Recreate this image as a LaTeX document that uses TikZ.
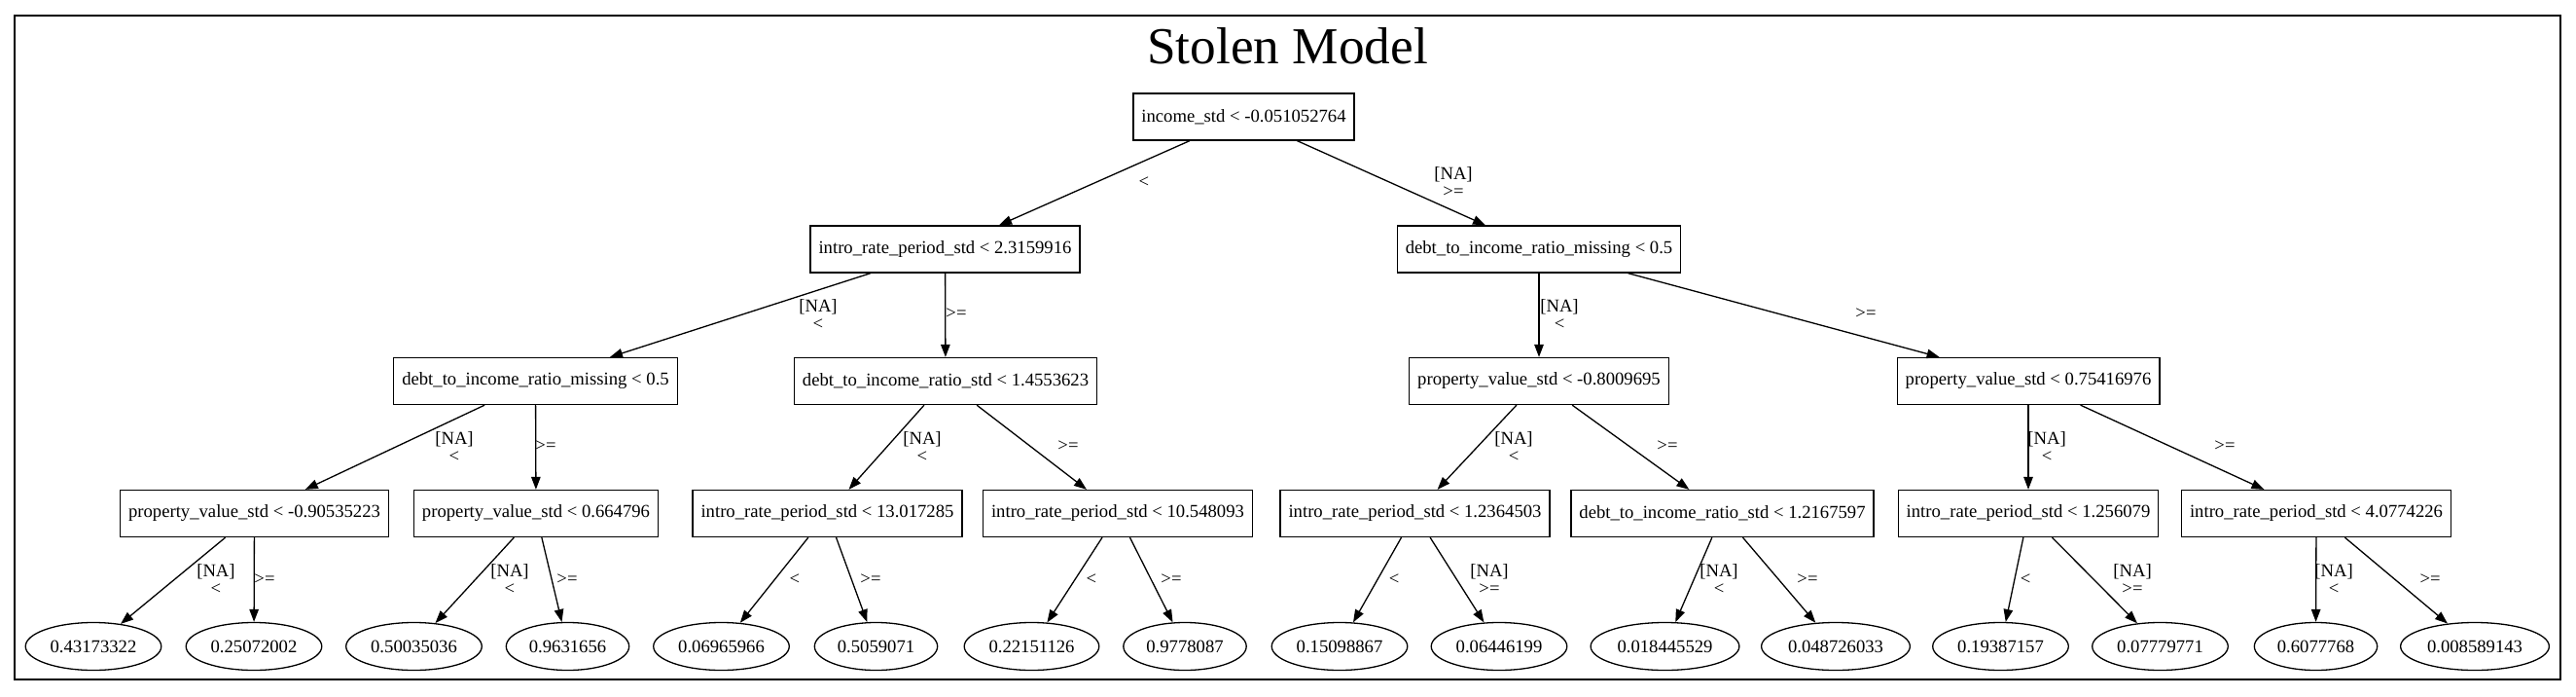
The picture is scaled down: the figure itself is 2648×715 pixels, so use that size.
\documentclass[tikz,border=0pt]{standalone}
\usepackage{fontspec}
\setmainfont{Liberation Serif}
\usetikzlibrary{shapes.geometric,arrows.meta}
\begin{document}
\begin{tikzpicture}[x=1pt,y=-1pt,
  txt/.style={font=\fontsize{18.67}{18}\selectfont},
  box/.style={txt,draw,line width=1.3pt,rectangle,minimum height=48pt,inner xsep=8.5pt,inner ysep=0pt},
  leaf/.style={txt,draw,line width=1.3pt,ellipse,minimum height=49pt,inner xsep=5pt,inner ysep=0pt},
  edge/.style={line width=1.3pt,-{Triangle[length=13pt,width=9.5pt]}},
  elabel/.style={txt,align=center,inner sep=0pt}]
\useasboundingbox (0,0) rectangle (2648,715);
\draw[line width=1.3pt] (15,16) rectangle (2632,698);
\node[font=\fontsize{53.3}{60}\selectfont,anchor=base] (title) at (1323.5,65) {Stolen Model};
% row 0-2
\node[box] (n0) at (1278.5,120) {income\_std < -0.051052764};
\node[box] (n1) at (971.5,256) {intro\_rate\_period\_std < 2.3159916};
\node[box] (n2) at (1582,256) {debt\_to\_income\_ratio\_missing < 0.5};
\node[box] (n3) at (550.5,391.5) {debt\_to\_income\_ratio\_missing < 0.5};
\node[box] (n4) at (972,391.5) {debt\_to\_income\_ratio\_std < 1.4553623};
\node[box] (n5) at (1582,391.5) {property\_value\_std < -0.8009695};
\node[box] (n6) at (2085,391.5) {property\_value\_std < 0.75416976};
% row 3
\node[box] (n7) at (261.5,527.5) {property\_value\_std < -0.90535223};
\node[box] (n8) at (551,527.5) {property\_value\_std < 0.664796};
\node[box] (n9) at (850.5,527.5) {intro\_rate\_period\_std < 13.017285};
\node[box] (n10) at (1149,527.5) {intro\_rate\_period\_std < 10.548093};
\node[box] (n11) at (1454.5,527.5) {intro\_rate\_period\_std < 1.2364503};
\node[box] (n12) at (1770.5,527.5) {debt\_to\_income\_ratio\_std < 1.2167597};
\node[box] (n13) at (2085,527.5) {intro\_rate\_period\_std < 1.256079};
\node[box] (n14) at (2381,527.5) {intro\_rate\_period\_std < 4.0774226};
% leaves
\node[leaf] (l1) at (96,664) {0.43173322};
\node[leaf] (l2) at (261,664) {0.25072002};
\node[leaf] (l3) at (425.5,664) {0.50035036};
\node[leaf] (l4) at (583.5,664) {0.9631656};
\node[leaf] (l5) at (741.5,664) {0.06965966};
\node[leaf] (l6) at (900.5,664) {0.5059071};
\node[leaf] (l7) at (1060.5,664) {0.22151126};
\node[leaf] (l8) at (1218,664) {0.9778087};
\node[leaf] (l9) at (1377,664) {0.15098867};
\node[leaf] (l10) at (1541,664) {0.06446199};
\node[leaf] (l11) at (1711.5,664) {0.018445529};
\node[leaf] (l12) at (1887,664) {0.048726033};
\node[leaf] (l13) at (2056.5,664) {0.19387157};
\node[leaf] (l14) at (2220.5,664) {0.07779771};
\node[leaf] (l15) at (2380.5,664) {0.6077768};
\node[leaf] (l16) at (2544,664) {0.008589143};
% edges
\draw[edge] (n0) -- (n1); \node[elabel] (e1) at (1176,187) {<};
\draw[edge] (n0) -- (n2); \node[elabel] (e2) at (1494,187) {[NA]\\>=};
\draw[edge] (n1) -- (n3); \node[elabel] (e3) at (841,323) {[NA]\\<};
\draw[edge] (n1) -- (n4); \node[elabel] (e4) at (983,322) {>=};
\draw[edge] (n2) -- (n5); \node[elabel] (e5) at (1603,323) {[NA]\\<};
\draw[edge] (n2) -- (n6); \node[elabel] (e6) at (1918,322) {>=};
\draw[edge] (n3) -- (n7); \node[elabel] (e7) at (467,459) {[NA]\\<};
\draw[edge] (n3) -- (n8); \node[elabel] (e8) at (561,458) {>=};
\draw[edge] (n4) -- (n9); \node[elabel] (e9) at (948,459) {[NA]\\<};
\draw[edge] (n4) -- (n10); \node[elabel] (e10) at (1098,458) {>=};
\draw[edge] (n5) -- (n11); \node[elabel] (e11) at (1556,459) {[NA]\\<};
\draw[edge] (n5) -- (n12); \node[elabel] (e12) at (1714,458) {>=};
\draw[edge] (n6) -- (n13); \node[elabel] (e13) at (2104,459) {[NA]\\<};
\draw[edge] (n6) -- (n14); \node[elabel] (e14) at (2287,458) {>=};
\draw[edge] (n7) -- (l1); \node[elabel] (e15) at (222,595) {[NA]\\<};
\draw[edge] (n7) -- (l2); \node[elabel] (e16) at (272,595) {>=};
\draw[edge] (n8) -- (l3); \node[elabel] (e17) at (524,595) {[NA]\\<};
\draw[edge] (n8) -- (l4); \node[elabel] (e18) at (583,595) {>=};
\draw[edge] (n9) -- (l5); \node[elabel] (e19) at (817,595) {<};
\draw[edge] (n9) -- (l6); \node[elabel] (e20) at (895,595) {>=};
\draw[edge] (n10) -- (l7); \node[elabel] (e21) at (1122,595) {<};
\draw[edge] (n10) -- (l8); \node[elabel] (e22) at (1204,595) {>=};
\draw[edge] (n11) -- (l9); \node[elabel] (e23) at (1433,595) {<};
\draw[edge] (n11) -- (l10); \node[elabel] (e24) at (1531,595) {[NA]\\>=};
\draw[edge] (n12) -- (l11); \node[elabel] (e25) at (1767,595) {[NA]\\<};
\draw[edge] (n12) -- (l12); \node[elabel] (e26) at (1858,595) {>=};
\draw[edge] (n13) -- (l13); \node[elabel] (e27) at (2082,595) {<};
\draw[edge] (n13) -- (l14); \node[elabel] (e28) at (2192,595) {[NA]\\>=};
\draw[edge] (n14) -- (l15); \node[elabel] (e29) at (2399,595) {[NA]\\<};
\draw[edge] (n14) -- (l16); \node[elabel] (e30) at (2498,595) {>=};
\end{tikzpicture}
\end{document}
